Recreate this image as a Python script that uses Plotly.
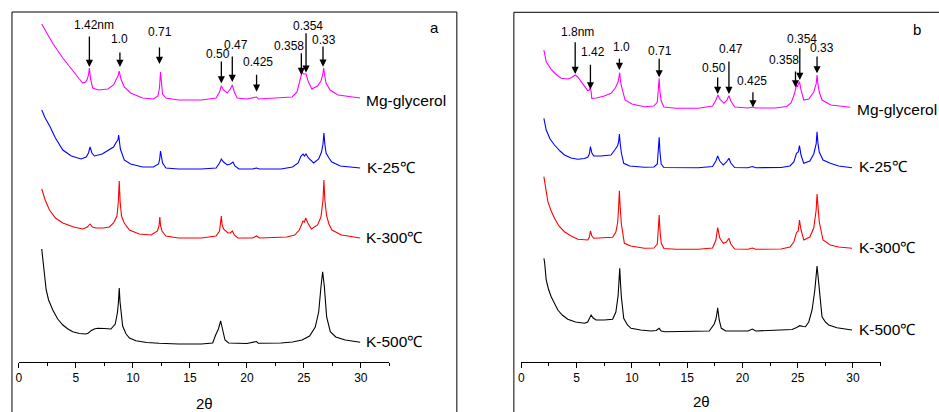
import plotly.graph_objects as go

# ---------------- Panel a data (2theta, intensity in arbitrary offset units) -------------
a_mg_x = [2.0, 2.5, 3.0, 3.85, 4.7, 5.3, 5.6, 5.85, 6.0, 6.1, 6.18, 6.25, 6.3, 6.47, 7.0, 7.8, 8.3, 8.6, 8.72, 8.8,
          8.88, 8.95, 9.24, 9.8, 10.85, 11.8, 12.2, 12.33, 12.42, 12.5, 12.6, 12.9, 14, 16, 17.3, 17.6, 17.76,
          17.95, 18.28, 18.55, 18.72, 18.9, 19.15, 20.0, 20.85, 21.0, 23.0, 23.97, 24.4, 24.65, 24.84, 25.0,
          25.19, 25.4, 25.7, 26.2, 26.5, 26.65, 26.74, 26.83, 26.95, 27.3, 28.0, 29.94]
a_mg_y = [338, 328, 318, 304, 291, 283, 279, 280, 283, 287, 294, 286, 282, 274, 272, 273, 277, 284, 287, 291,
          287, 283, 275, 269, 264, 263, 266, 274, 290, 276, 268, 264, 262, 262, 264, 270, 276,
          272, 269, 273, 277, 270, 264, 263, 265, 263, 264, 265, 270, 280, 290, 288,
          288, 280, 273, 276, 281, 287, 294, 286, 279, 272, 267, 264]

a_k25_x = [2.0, 2.3, 2.7, 3.2, 3.85, 4.6, 5.45, 5.9, 6.1, 6.24, 6.4, 6.62, 7.3, 7.93, 8.3, 8.55, 8.68, 8.75, 8.82,
           8.9, 9.24, 9.8, 10.85, 11.8, 12.25, 12.35, 12.42, 12.5, 12.6, 12.9, 14, 16, 17.3, 17.6, 17.76, 17.95,
           18.28, 18.55, 18.78, 18.95, 19.3, 20.5, 20.85, 21.1, 23.0, 24.0, 24.5, 24.75, 24.93, 25.05, 25.19,
           25.4, 25.86, 26.3, 26.55, 26.68, 26.76, 26.84, 26.95, 27.2, 27.46, 28.2, 29.94]
a_k25_y = [252, 244, 236, 224, 212, 206, 203, 205, 209, 215, 209, 206, 208, 212, 215, 220, 222, 227, 221,
           213, 202, 198, 195, 195, 198, 203, 211, 203, 199, 194, 193, 193, 194, 199, 203, 200,
           197, 198, 200, 196, 193, 193, 194, 193, 193, 195, 199, 206, 208, 206, 208,
           204, 199, 203, 210, 218, 229, 218, 209, 204, 200, 196, 194]

a_k300_x = [2.0, 2.3, 2.68, 3.2, 3.85, 4.8, 5.6, 6.0, 6.24, 6.45, 6.78, 7.4, 7.93, 8.3, 8.6, 8.72, 8.8, 8.88, 9.0,
            9.24, 9.7, 10.55, 11.6, 12.15, 12.29, 12.36, 12.43, 12.55, 12.9, 14, 16, 17.3, 17.6, 17.69, 17.76,
            17.83, 17.95, 18.34, 18.55, 18.72, 18.9, 19.2, 20.5, 20.85, 21.1, 23.5, 24.2, 24.6, 24.93, 25.05,
            25.16, 25.35, 25.66, 26.2, 26.5, 26.68, 26.76, 26.84, 27.0, 27.2, 27.46, 28.3, 29.94]
a_k300_y = [173, 162, 152, 144, 139, 135, 133, 135, 138, 135, 134, 134, 135, 139, 146, 160, 181, 160, 146,
            139, 132, 128, 127, 131, 136, 145, 136, 131, 126, 124, 124, 126, 131, 137, 146,
            137, 133, 129, 129, 131, 127, 124, 124, 126, 124, 125, 127, 132, 141, 140,
            144, 139, 133, 137, 145, 162, 182, 162, 146, 138, 132, 127, 124]

a_k500_x = [2.0, 2.1, 2.25, 2.39, 2.6, 2.97, 3.4, 3.85, 4.3, 4.72, 5.3, 5.89, 6.1, 6.33, 6.6, 6.91, 7.5, 8.07,
            8.45, 8.65, 8.73, 8.8, 8.87, 8.95, 9.1, 9.4, 9.7, 10.26, 11.2, 12.3, 14, 16, 17.0, 17.26, 17.5, 17.7,
            17.85, 18.08, 18.4, 20.0, 20.85, 21.0, 23.0, 24.0, 24.84, 25.5, 26.0, 26.3, 26.5, 26.65, 26.8, 27.0,
            27.32, 27.8, 28.63, 29.3, 29.94]
a_k500_y = [113, 102, 85, 72, 62, 52, 43, 37, 33, 30.3, 28.5, 28, 29, 31.3, 33, 33.7, 33.5, 33,
            38, 50, 60, 74, 60, 50, 36, 28, 24, 21.3, 19.5, 18.7, 18, 18, 19, 27, 33, 41,
            33, 22, 19, 18.5, 20.5, 18.7, 19, 20, 22, 26, 35, 50, 75, 90.3, 75, 45,
            30.3, 25, 22, 21, 19.7]

# ---------------- Panel b data -------------
b_mg_x = [2.04, 2.25, 2.7, 3.1, 3.6, 4.2, 4.55, 4.87, 5.1, 5.41, 5.75, 6.01, 6.15, 6.25, 6.32, 6.37, 6.8, 7.5,
          8.11, 8.5, 8.75, 8.83, 8.9, 8.97, 9.05, 9.38, 10.0, 11.12, 12.0, 12.3, 12.4, 12.47, 12.54, 12.65, 12.9,
          14, 16, 17.3, 17.6, 17.79, 17.95, 18.33, 18.6, 18.78, 18.95, 19.3, 20.5, 20.95, 21.2, 23.0, 24.0, 24.4,
          24.7, 24.89, 25.0, 25.16, 25.3, 25.55, 26.0, 26.45, 26.67, 26.75, 26.83, 26.95, 27.2, 28.0, 29.76]
b_mg_y = [312, 300.3, 292.7, 288, 283.7, 283, 284.5, 287, 285, 280.3, 276, 271.3, 272, 274.7, 270, 263.7, 264, 266,
          268.7, 274, 280, 284, 289.3, 281, 276, 262, 258, 255.3, 256, 260, 270, 283.7, 270, 261, 255,
          253.7, 253.7, 256, 262, 267, 263, 258.7, 262, 266.3, 261, 255, 254, 255, 254, 254, 255.5, 259,
          268, 277, 276, 280.3, 272, 262, 263, 270, 278, 287, 278, 270, 262, 257, 254.7]

b_k25_x = [2.04, 2.25, 2.6, 3.0, 3.5, 3.9, 4.5, 5.11, 5.7, 6.01, 6.15, 6.25, 6.38, 6.55, 7.2, 7.8, 8.11, 8.45, 8.7,
           8.8, 8.87, 8.94, 9.05, 9.26, 9.8, 11.12, 12.0, 12.3, 12.4, 12.47, 12.54, 12.65, 12.9, 14, 16, 17.3,
           17.6, 17.76, 17.95, 18.27, 18.55, 18.78, 18.95, 19.3, 20.5, 20.9, 21.2, 23.5, 24.3, 24.65, 24.89,
           25.05, 25.16, 25.3, 25.55, 26.1, 26.45, 26.67, 26.75, 26.83, 26.95, 27.29, 27.95, 28.7, 29.91]
b_k25_y = [243.7, 232, 223, 217, 211, 207, 204, 202.7, 203.5, 204.7, 208, 215.3, 209, 206, 206, 206.5, 207, 212, 216,
           220, 228, 219, 209, 198.7, 196, 194.7, 195, 198, 210, 224.7, 210, 198, 194.5, 194.3, 194.3, 195.5,
           201, 206, 201, 197, 200, 203.7, 199, 194.5, 194.3, 195.5, 194.3, 194.5, 196, 200, 208.7,
           210, 216.3, 207, 198.7, 201, 208, 218, 230.3, 219, 210, 202, 198.7, 196, 194.3]

b_k300_x = [2.04, 2.2, 2.4, 2.7, 3.0, 3.4, 3.9, 4.5, 5.11, 6.01, 6.15, 6.25, 6.38, 6.55, 7.5, 8.26, 8.55, 8.72,
            8.8, 8.87, 8.94, 9.05, 9.32, 9.9, 11.12, 12.0, 12.3, 12.4, 12.47, 12.54, 12.65, 12.9, 14, 16, 17.3,
            17.6, 17.76, 17.95, 18.27, 18.55, 18.78, 18.95, 19.3, 20.5, 20.9, 21.2, 23.5, 24.3, 24.65, 24.89,
            25.05, 25.16, 25.3, 25.55, 26.1, 26.45, 26.67, 26.75, 26.83, 26.95, 27.29, 27.95, 28.7, 29.91]
b_k300_y = [185.3, 172, 160.3, 151, 143.7, 136, 130.3, 126, 122.7, 122, 125, 131, 126, 123.7, 124, 124.7, 130, 140,
            155, 171.3, 155, 138, 118.7, 116, 113.7, 114, 118, 132, 147, 132, 119, 113.5, 112.7, 112.7, 114,
            122, 134.3, 124, 118.7, 120, 123.7, 118, 113, 112.7, 114, 112.7, 113, 115, 120, 129.3,
            131, 142, 132, 122, 125, 134, 152, 168, 155, 140, 122, 117, 115, 113.7]

b_k500_x = [2.04, 2.1, 2.25, 2.45, 2.7, 3.0, 3.3, 3.7, 4.2, 4.9, 5.71, 6.0, 6.15, 6.31, 6.5, 6.76, 7.5, 8.26, 8.55,
            8.75, 8.83, 8.9, 8.97, 9.05, 9.26, 9.6, 9.92, 10.8, 11.72, 12.2, 12.47, 12.65, 13.0, 15, 17.0, 17.45,
            17.6, 17.7, 17.76, 17.82, 17.9, 18.09, 18.5, 20.5, 20.9, 21.2, 23.0, 24.5, 24.9, 25.19, 25.5, 25.7,
            26.0, 26.3, 26.55, 26.67, 26.75, 26.84, 26.95, 27.2, 27.5, 27.8, 28.55, 29.2, 29.91]
b_k500_y = [103.7, 100, 82, 73, 65.3, 58, 52, 47, 42.7, 40, 38.7, 40, 43, 47, 44, 42, 42, 42.7, 50,
            66, 80, 93.7, 79, 65, 43.7, 37, 33.7, 32, 31, 31.5, 33.7, 31, 30.3, 30.3, 31, 38,
            43, 49, 54.3, 49, 42, 33.7, 31, 31, 33, 31, 31.5, 32.5, 34.5, 36.3, 35.5, 35.3,
            40, 52, 72, 86, 96, 86, 72, 45.3, 40, 37, 34.3, 33, 32]

series_names = ["Mg-glycerol", "K-25℃", "K-300℃", "K-500℃"]
series_colors = ["#FF00FF", "#0000FF", "#FF0000", "#000000"]

# peak annotations: label, text x, text y, arrow x, arrow tail y, arrow tip y
a_marks = [("1.42nm", 6.62, 337, 6.18, 327, 295), ("1.0", 8.86, 322.7, 8.86, 311, 295),
           ("0.71", 12.42, 329.7, 12.33, 316, 298), ("0.50", 17.47, 308, 17.76, 302, 278.7),
           ("0.47", 19.07, 317.3, 18.72, 307, 280), ("0.425", 20.96, 299.7, 20.85, 288.7, 270.3),
           ("0.358", 23.73, 316.3, 24.78, 310.3, 287), ("0.354", 25.34, 336.3, 25.19, 330.3, 289.3),
           ("0.33", 26.74, 322.3, 26.68, 317, 295.3)]
b_marks = [("1.8nm", 5.05, 330.3, 4.87, 321.3, 288), ("1.42", 6.46, 309.7, 6.25, 298.7, 272.7),
           ("1.0", 9.02, 314.7, 8.87, 304.7, 292), ("0.71", 12.56, 311, 12.47, 304.7, 284.7),
           ("0.50", 17.43, 293.7, 17.76, 286, 268), ("0.47", 19.0, 312.7, 18.78, 302, 268),
           ("0.425", 20.9, 281, 20.95, 271.3, 254.7), ("0.358", 23.74, 302, 24.8, 292, 274.7),
           ("0.354", 25.4, 322.7, 25.19, 315.3, 282), ("0.33", 27.2, 313.7, 26.75, 307, 288.7)]

W, H = 939, 412
FONT = "Liberation Sans, Arial, sans-serif"

def px(x):
    return x / W

def py(y):
    return (H - y) / H

fig = go.Figure()

panels = [
    ("x", "y", [(a_mg_x, a_mg_y), (a_k25_x, a_k25_y), (a_k300_x, a_k300_y), (a_k500_x, a_k500_y)]),
    ("x2", "y2", [(b_mg_x, b_mg_y), (b_k25_x, b_k25_y), (b_k300_x, b_k300_y), (b_k500_x, b_k500_y)]),
]
for xa, ya, curves in panels:
    for (xs, ys), name, col in zip(curves, series_names, series_colors):
        fig.add_trace(go.Scatter(x=xs, y=ys, mode="lines", xaxis=xa, yaxis=ya, name=name,
                                 line=dict(color=col, width=1.1), showlegend=False, hoverinfo="skip"))

ydom = [py(362), py(12)]
axis_common = dict(range=[0, 32.5], showline=True, linecolor="black", linewidth=1, ticks="outside",
                   ticklen=5, tickwidth=1, tickcolor="black", tick0=0, dtick=5, showgrid=False,
                   zeroline=False, tickfont=dict(family=FONT, size=12, color="black"),
                   minor=dict(dtick=2.5, ticks="outside", ticklen=3, tickwidth=1, tickcolor="black", showgrid=False))
fig.update_layout(
    width=W, height=H, margin=dict(l=0, r=0, t=0, b=0),
    paper_bgcolor="white", plot_bgcolor="rgba(0,0,0,0)",
    xaxis=dict(domain=[px(16), px(16 + 32.5 * 11.433)], anchor="y", **axis_common),
    yaxis=dict(domain=ydom, range=[0, 350], visible=False),
    xaxis2=dict(domain=[px(520), px(520 + 32.5 * 11.09)], anchor="y2", **axis_common),
    yaxis2=dict(domain=ydom, range=[0, 350], visible=False),
)

# frames
fig.add_shape(type="rect", xref="paper", yref="paper", x0=px(9), x1=px(455.3), y0=-0.05, y1=py(12),
              line=dict(color="black", width=1))
fig.add_shape(type="rect", xref="paper", yref="paper", x0=px(512.5), x1=1.05, y0=-0.05, y1=py(12.3),
              line=dict(color="black", width=1))

ann = []
# series labels
a_lab_pos = [(362, 100), (363, 167.7), (362, 237.7), (362, 341)]
b_lab_pos = [(855, 109), (856.7, 166.3), (856.7, 248), (856.7, 329)]
for pos in (a_lab_pos, b_lab_pos):
    for (lx, ly), name in zip(pos, series_names):
        ann.append(dict(xref="paper", yref="paper", x=px(lx), y=py(ly), text=name, showarrow=False,
                        xanchor="left", yanchor="middle", font=dict(family=FONT, size=15.5, color="black")))
# panel letters
ann.append(dict(xref="paper", yref="paper", x=px(433), y=py(28), text="a", showarrow=False,
                xanchor="center", yanchor="middle", font=dict(family=FONT, size=15, color="black")))
ann.append(dict(xref="paper", yref="paper", x=px(916.7), y=py(30), text="b", showarrow=False,
                xanchor="center", yanchor="middle", font=dict(family=FONT, size=15, color="black")))
# axis titles
ann.append(dict(xref="paper", yref="paper", x=px(202), y=py(403), text="2θ", showarrow=False,
                xanchor="center", yanchor="middle", font=dict(family=FONT, size=15, color="black")))
ann.append(dict(xref="paper", yref="paper", x=px(701), y=py(401), text="2θ", showarrow=False,
                xanchor="center", yanchor="middle", font=dict(family=FONT, size=15, color="black")))
# peak marks
for xa, ya, marks in (("x", "y", a_marks), ("x2", "y2", b_marks)):
    for lab, tx, ty, axx, tail, tip in marks:
        ann.append(dict(xref=xa, yref=ya, x=tx, y=ty, text=lab, showarrow=False,
                        xanchor="center", yanchor="middle", font=dict(family=FONT, size=12, color="black")))
        ann.append(dict(xref=xa, yref=ya, x=axx, y=tip, ax=axx, ay=tail, axref=xa, ayref=ya, text="",
                        showarrow=True, arrowhead=2, arrowsize=1.1, arrowwidth=1.3, arrowcolor="black",
                        standoff=0, startstandoff=0))
fig.update_layout(annotations=ann)

fig.write_html("out.html")
